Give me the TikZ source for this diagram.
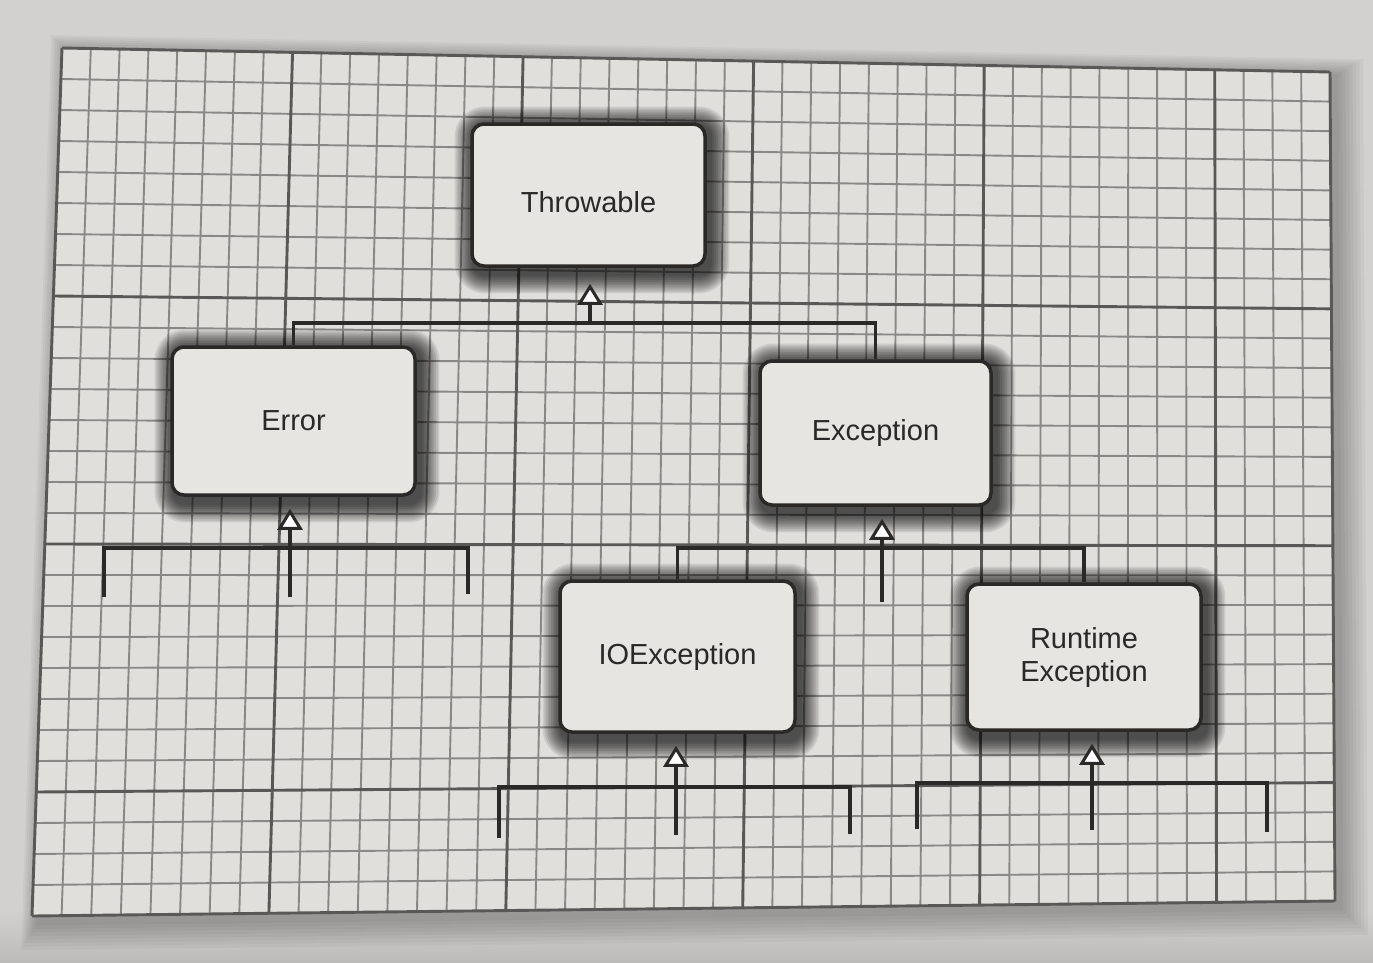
\documentclass[tikz,border=0pt]{standalone}
\usepackage{fontspec}
\setmainfont{Liberation Sans}
\usetikzlibrary{arrows.meta,calc}
\definecolor{bgc}{HTML}{D3D1CF}
\definecolor{bgdark}{HTML}{BDBBB9}
\definecolor{paper}{HTML}{E1DFDC}
\definecolor{minorc}{HTML}{8A8886}
\definecolor{majorc}{HTML}{5A5856}
\definecolor{boxfill}{HTML}{E7E5E2}
\definecolor{ink}{HTML}{2B2927}
\definecolor{txt}{HTML}{2A2928}
\pgfdeclarelayer{gridlayer}
\pgfdeclarelayer{shadowlayer}
\pgfsetlayers{gridlayer,shadowlayer,main}
\newcommand\boxshadow[1]{%
 \begin{pgfonlayer}{shadowlayer}
 \foreach \k in {1,...,11}{%
   \pgfmathsetmacro\dd{1.7*\k}
   \pgfmathsetmacro\rr{12+1.7*\k}
   \fill[black, opacity=0.085, rounded corners=\rr pt] ($(#1.north west)+(3-\dd,3-\dd)$) rectangle ($(#1.south east)+(4+\dd,7+\dd)$);
 }
 \end{pgfonlayer}}
\begin{document}
\begin{tikzpicture}[x=1pt,y=-1pt,
  cls/.style={rectangle, rounded corners=12pt, draw=ink, line width=3.5pt, fill=boxfill, text=txt, font=\fontsize{29}{33}\selectfont, align=center, inner sep=0pt},
  conn/.style={draw=ink, line width=3.5pt},
  inh/.style={conn, -{Triangle[length=21pt,width=25pt,fill=white,line width=3pt]}},
  minorline/.style={draw=minorc, line width=1.9pt},
  majorline/.style={draw=majorc, line width=2.9pt}
]
\useasboundingbox (0,0) rectangle (1373,962);
\begin{pgfonlayer}{gridlayer}
  \fill[bgc] (0,0) rectangle (1373,962);
  \shade[top color=bgc, bottom color=bgdark] (0,910) rectangle (1373,962);
  \foreach \k in {1,...,8}{%
    \pgfmathsetmacro\dd{3.5*\k}
    \fill[black, opacity=0.035] (62+6-0.6*\dd,48+4-0.6*\dd) -- (1330+5+\dd,72+4-0.6*\dd) -- (1335+5+\dd,901+6+\dd) -- (32+6-0.6*\dd,916+6+\dd) -- cycle;
  }
  \fill[paper] (62,48) -- (1330,72) -- (1335,901) -- (32,916) -- cycle;
  \foreach \i in {0,...,44}{%
    \pgfmathsetmacro\tx{62+\i/44*1268}
    \pgfmathsetmacro\ty{48+\i/44*24}
    \pgfmathsetmacro\bx{32+\i/44*1303}
    \pgfmathsetmacro\by{916-\i/44*15}
    \pgfmathtruncatemacro\m{(mod(\i,8)==0) || (\i==44)}
    \ifnum\m=0 \draw[minorline] (\tx,\ty) -- (\bx,\by); \fi
  }
  \foreach \j in {0,...,28}{%
    \pgfmathsetmacro\lx{62-\j/28*30}
    \pgfmathsetmacro\ly{48+\j/28*868}
    \pgfmathsetmacro\rx{1330+\j/28*5}
    \pgfmathsetmacro\ry{72+\j/28*829}
    \pgfmathtruncatemacro\m{(mod(\j,8)==0) || (\j==28)}
    \ifnum\m=0 \draw[minorline] (\lx,\ly) -- (\rx,\ry); \fi
  }
  \foreach \i in {0,...,44}{%
    \pgfmathsetmacro\tx{62+\i/44*1268}
    \pgfmathsetmacro\ty{48+\i/44*24}
    \pgfmathsetmacro\bx{32+\i/44*1303}
    \pgfmathsetmacro\by{916-\i/44*15}
    \pgfmathtruncatemacro\m{(mod(\i,8)==0) || (\i==44)}
    \ifnum\m=1 \draw[majorline] (\tx,\ty) -- (\bx,\by); \fi
  }
  \foreach \j in {0,...,28}{%
    \pgfmathsetmacro\lx{62-\j/28*30}
    \pgfmathsetmacro\ly{48+\j/28*868}
    \pgfmathsetmacro\rx{1330+\j/28*5}
    \pgfmathsetmacro\ry{72+\j/28*829}
    \pgfmathtruncatemacro\m{(mod(\j,8)==0) || (\j==28)}
    \ifnum\m=1 \draw[majorline] (\lx,\ly) -- (\rx,\ry); \fi
  }
\end{pgfonlayer}

% classes
\node[cls, minimum width=233pt, minimum height=142pt] (Throwable) at (588.5,195) {\raisebox{-7pt}[21pt][0pt]{Throwable}};
\node[cls, minimum width=243pt, minimum height=148pt] (Error) at (293.5,421) {Error};
\node[cls, minimum width=231pt, minimum height=144pt] (Exception) at (875.5,433) {Exception};
\node[cls, minimum width=235pt, minimum height=151pt] (IOException) at (677.5,656.5) {IOException};
\node[cls, minimum width=234pt, minimum height=146pt] (Runtime) at (1084,657) {Runtime\\Exception};
\boxshadow{Throwable}
\boxshadow{Error}
\boxshadow{Exception}
\boxshadow{IOException}
\boxshadow{Runtime}

% Throwable group
\coordinate (tJ) at (590,323);
\draw[conn] (Error.north) |- (tJ) -| (Exception.north);
\draw[inh] (tJ) -- ($(tJ |- Throwable.south)+(0,16)$);

% Error group
\coordinate (eJ) at (290,548);
\coordinate (eL) at (104,597);
\coordinate (eR) at (468,594);
\coordinate (eS) at (290,597);
\draw[conn] (eL) |- (eJ) -| (eR);
\draw[inh] (eS) -- ($(eJ |- Error.south)+(0,12)$);

% Exception group
\coordinate (xJ) at (882,548);
\coordinate (xS) at (882,602);
\draw[conn] (IOException.north) |- (xJ) -| (Runtime.north);
\draw[inh] (xS) -- ($(xJ |- Exception.south)+(0,12)$);

% IOException group
\coordinate (iJ) at (676,787);
\coordinate (iL) at (499,838);
\coordinate (iR) at (850,834);
\coordinate (iS) at (676,835);
\draw[conn] (iL) |- (iJ) -| (iR);
\draw[inh] (iS) -- ($(iJ |- IOException.south)+(0,12)$);

% RuntimeException group
\coordinate (rJ) at (1092,783);
\coordinate (rL) at (917,829);
\coordinate (rR) at (1267,832);
\coordinate (rS) at (1092,830);
\draw[conn] (rL) |- (rJ) -| (rR);
\draw[inh] (rS) -- ($(rJ |- Runtime.south)+(0,12)$);
\end{tikzpicture}
\end{document}
